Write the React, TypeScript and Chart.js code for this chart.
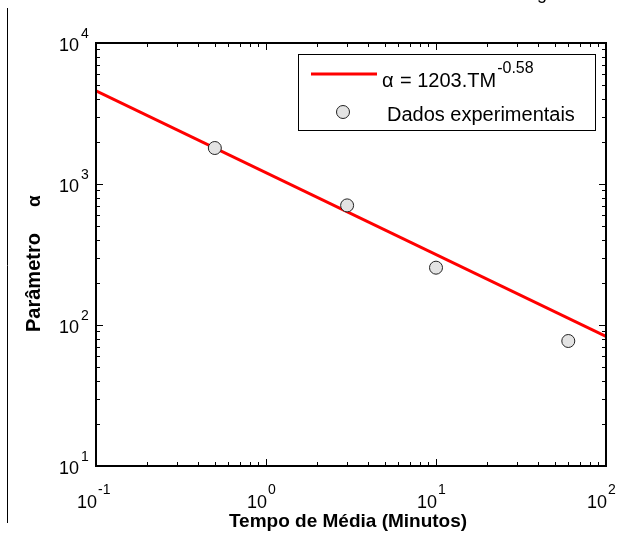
import React, { useEffect, useRef } from "react";
import { Chart, registerables } from "chart.js";

Chart.register(...registerables);

// ---- data ----
const fitX = [0.1, 100];
const fitY = [4570, 83];
const expX = [0.5, 3, 10, 60];
const expY = [1800, 705, 255, 77];
const xTickExps = [-1, 0, 1, 2];
const yTickExps = [1, 2, 3, 4];
const legendFitMain = "= 1203.TM";
const legendFitSup = "-0.58";
const legendFitSym = "α";
const legendExp = "Dados experimentais";
const xTitle = "Tempo de Média (Minutos)";
const yTitleMain = "Parâmetro";
const yTitleSym = "α";

const FONT = '"Liberation Sans", Arial, Helvetica, sans-serif';

export default function App() {
  const ref = useRef<HTMLCanvasElement>(null);

  useEffect(() => {
    document.body.style.margin = "0";
    const canvas = ref.current;
    if (!canvas) return;

    const overlay = {
      id: "matlabAxes",
      afterDraw(chart: any) {
        const ctx = chart.ctx as CanvasRenderingContext2D;
        const { left, right, top, bottom } = chart.chartArea;
        const xs = chart.scales.x;
        const ys = chart.scales.y;
        ctx.save();

        // stray page artefacts
        ctx.strokeStyle = "#000";
        ctx.lineWidth = 1;
        ctx.beginPath();
        ctx.moveTo(7.5, 8);
        ctx.lineTo(7.5, 523);
        ctx.stroke();
        ctx.fillStyle = "#000";
        ctx.font = `18px ${FONT}`;
        ctx.textAlign = "left";
        ctx.textBaseline = "alphabetic";
        ctx.fillText("g", 537, -1);

        // ticks (inward, all four sides)
        ctx.lineWidth = 1;
        for (let i = 0; i < xTickExps.length; i++) {
          const d = xTickExps[i];
          const maxM = i === xTickExps.length - 1 ? 1 : 9;
          for (let m = 1; m <= maxM; m++) {
            const v = m * Math.pow(10, d);
            const px = Math.round(xs.getPixelForValue(v)) + 0.5;
            const len = m === 1 ? 7 : 4;
            ctx.beginPath();
            ctx.moveTo(px, bottom);
            ctx.lineTo(px, bottom - len);
            ctx.moveTo(px, top);
            ctx.lineTo(px, top + len);
            ctx.stroke();
          }
        }
        for (let i = 0; i < yTickExps.length; i++) {
          const d = yTickExps[i];
          const maxM = i === yTickExps.length - 1 ? 1 : 9;
          for (let m = 1; m <= maxM; m++) {
            const v = m * Math.pow(10, d);
            const py = Math.round(ys.getPixelForValue(v)) + 0.5;
            const len = m === 1 ? 7 : 4;
            ctx.beginPath();
            ctx.moveTo(left, py);
            ctx.lineTo(left + len, py);
            ctx.moveTo(right, py);
            ctx.lineTo(right - len, py);
            ctx.stroke();
          }
        }

        // box
        ctx.lineWidth = 2;
        ctx.strokeRect(left, top, right - left, bottom - top);

        // tick labels
        ctx.fillStyle = "#000";
        for (const e of xTickExps) {
          const px = xs.getPixelForValue(Math.pow(10, e));
          ctx.font = `18px ${FONT}`;
          ctx.textAlign = "right";
          ctx.fillText("10", px + 1, bottom + 42);
          ctx.font = `14px ${FONT}`;
          ctx.textAlign = "left";
          ctx.fillText(String(e), px + 2, bottom + 28);
        }
        for (const e of yTickExps) {
          const py = ys.getPixelForValue(Math.pow(10, e));
          ctx.font = `18px ${FONT}`;
          ctx.textAlign = "right";
          ctx.fillText("10", left - 17, py + 8);
          ctx.font = `14px ${FONT}`;
          ctx.textAlign = "left";
          ctx.fillText(String(e), left - 15, py - 5);
        }

        // axis titles
        ctx.font = `bold 19px ${FONT}`;
        ctx.textAlign = "center";
        ctx.fillText(xTitle, (left + right) / 2 - 3, 527);

        ctx.save();
        ctx.translate(40, 332);
        ctx.rotate(-Math.PI / 2);
        ctx.textAlign = "left";
        ctx.font = `bold 20px ${FONT}`;
        ctx.fillText(yTitleMain, 0, 0);
        ctx.font = `bold 19px ${FONT}`;
        ctx.fillText(yTitleSym, 125, 0);
        ctx.restore();

        // legend
        const lx = right - 308;
        const ly = top + 11;
        const lw = 297;
        const lh = 76;
        ctx.fillStyle = "#fff";
        ctx.fillRect(lx, ly, lw, lh);
        ctx.strokeStyle = "#000";
        ctx.lineWidth = 1;
        ctx.strokeRect(lx + 0.5, ly + 0.5, lw, lh);

        ctx.strokeStyle = "#ff0000";
        ctx.lineWidth = 3;
        ctx.beginPath();
        ctx.moveTo(lx + 13, ly + 20);
        ctx.lineTo(lx + 79, ly + 20);
        ctx.stroke();

        ctx.fillStyle = "#000";
        ctx.textAlign = "left";
        ctx.font = `20px ${FONT}`;
        ctx.fillText(legendFitSym, lx + 84, ly + 33);
        ctx.fillText(legendFitMain, lx + 102, ly + 33);
        const w = ctx.measureText(legendFitMain).width;
        ctx.font = `16px ${FONT}`;
        ctx.fillText(legendFitSup, lx + 102 + w + 1, ly + 19);

        ctx.beginPath();
        ctx.arc(lx + 45, ly + 58, 6.5, 0, Math.PI * 2);
        ctx.fillStyle = "#e3e3e3";
        ctx.fill();
        ctx.strokeStyle = "#222";
        ctx.lineWidth = 1;
        ctx.stroke();

        ctx.fillStyle = "#000";
        ctx.font = `20px ${FONT}`;
        ctx.fillText(legendExp, lx + 89, ly + 67);

        ctx.restore();
      },
    };

    const chart = new Chart(canvas, {
      type: "scatter",
      data: {
        datasets: [
          {
            label: "exp",
            data: expX.map((x, i) => ({ x, y: expY[i] })),
            showLine: false,
            pointRadius: 6.5,
            pointBackgroundColor: "#e3e3e3",
            pointBorderColor: "#222",
            pointBorderWidth: 1,
            order: 0,
          },
          {
            label: "fit",
            data: fitX.map((x, i) => ({ x, y: fitY[i] })),
            showLine: true,
            borderColor: "#ff0000",
            borderWidth: 3,
            pointRadius: 0,
            fill: false,
            order: 1,
          },
        ],
      },
      options: {
        responsive: false,
        animation: false,
        devicePixelRatio: 1,
        layout: { padding: { left: 96, right: 13, top: 43, bottom: 68 } },
        plugins: {
          legend: { display: false },
          tooltip: { enabled: false },
          title: { display: false },
        },
        scales: {
          x: { type: "logarithmic", min: 0.1, max: 100, display: false },
          y: { type: "logarithmic", min: 10, max: 10000, display: false },
        },
      },
      plugins: [overlay],
    });

    return () => chart.destroy();
  }, []);

  return (
    <div style={{ width: 619, height: 534, position: "relative", background: "#fff" }}>
      <canvas ref={ref} width={619} height={534} style={{ display: "block" }} />
    </div>
  );
}
